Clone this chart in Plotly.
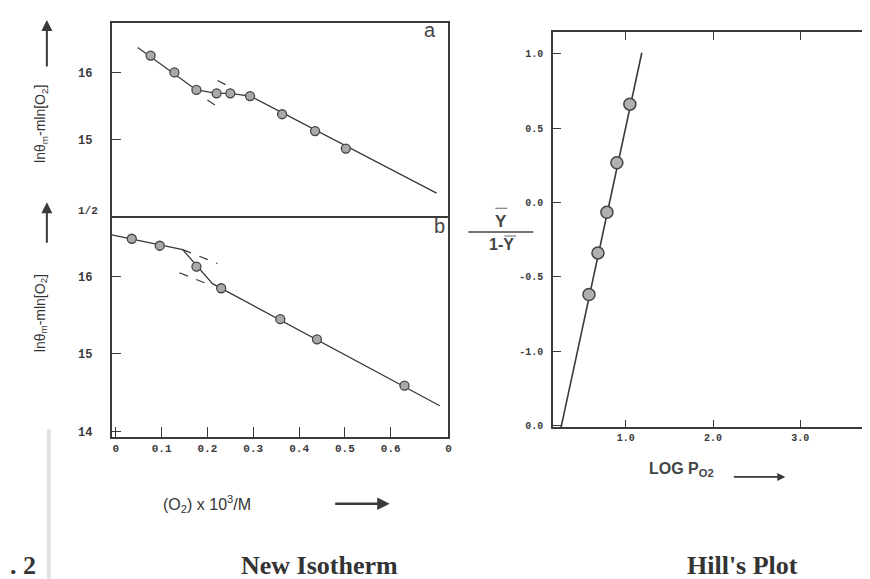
import plotly.graph_objects as go

W, H = 870, 579

# ---------------- data ----------------
# Panel a (New Isotherm, upper)
a_x = [0.076, 0.128, 0.176, 0.220, 0.250, 0.293, 0.363, 0.435, 0.502]
a_y = [16.25, 16.00, 15.74, 15.69, 15.69, 15.65, 15.38, 15.13, 14.87]
a_line1_x = [0.048, 0.176]
a_line1_y = [16.37, 15.74]
a_line2_x = [0.176, 0.220, 0.250, 0.293]
a_line2_y = [15.74, 15.69, 15.69, 15.65]
a_line3_x = [0.293, 0.700]
a_line3_y = [15.65, 14.21]
a_dash1_x = [0.222, 0.248]
a_dash1_y = [15.88, 15.79]
a_dash2_x = [0.200, 0.222]
a_dash2_y = [15.59, 15.49]

# Panel b (New Isotherm, lower)
b_x = [0.035, 0.096, 0.176, 0.230, 0.359, 0.439, 0.630]
b_y = [16.49, 16.40, 16.13, 15.85, 15.45, 15.19, 14.59]
b_line_x = [-0.009, 0.146, 0.211, 0.707]
b_line_y = [16.54, 16.35, 15.91, 14.33]
b_dash1_x = [0.146, 0.222]
b_dash1_y = [16.35, 16.17]
b_dash2_x = [0.139, 0.211]
b_dash2_y = [16.05, 15.88]

# Hill's plot
h_x = [1.046, 0.897, 0.783, 0.680, 0.577]
h_y = [0.662, 0.268, -0.065, -0.339, -0.619]
h_line_x = [0.257, 1.183]
h_line_y = [-1.513, 1.008]

left_x_ticks = [0, 0.1, 0.2, 0.3, 0.4, 0.5, 0.6, 0.726]
left_x_ticktext = ["0", "0.1", "0.2", "0.3", "0.4", "0.5", "0.6", "0"]
a_y_ticks = [15, 16]
b_y_ticks = [14, 15, 16]
hill_x_ticks = [1, 2, 3]
hill_x_ticktext = ["1.0", "2.0", "3.0"]
hill_y_ticks = [-1.5, -1.0, -0.5, 0.0, 0.5, 1.0]
hill_y_ticktext = ["0.0", "-1.0", "-0.5", "0.0", "0.5", "1.0"]

# ---------------- styles ----------------
INK = "#3a3a3a"
LINE = dict(color=INK, width=1.3)
DASH = dict(color=INK, width=1.2, dash="dash")
MARK = dict(size=9, color="#a9a9a9", line=dict(color="#444", width=1.3))
HMARK = dict(size=12, color="#b0b0b0", line=dict(color="#444", width=1.5))


def px(x):
    return x / W


def py(y):
    return 1 - y / H


fig = go.Figure()


def add_line(xs, ys, xa, ya, style):
    fig.add_trace(go.Scatter(x=xs, y=ys, mode="lines", line=style,
                             xaxis=xa, yaxis=ya, showlegend=False, hoverinfo="skip"))


def add_pts(xs, ys, xa, ya, marker):
    fig.add_trace(go.Scatter(x=xs, y=ys, mode="markers", marker=marker,
                             xaxis=xa, yaxis=ya, showlegend=False))


# panel a
add_line(a_line1_x, a_line1_y, "x", "y", LINE)
add_line(a_line2_x, a_line2_y, "x", "y", LINE)
add_line(a_line3_x, a_line3_y, "x", "y", LINE)
add_line(a_dash1_x, a_dash1_y, "x", "y", DASH)
add_line(a_dash2_x, a_dash2_y, "x", "y", DASH)
add_pts(a_x, a_y, "x", "y", MARK)

# panel b
add_line(b_line_x, b_line_y, "x2", "y2", LINE)
add_line(b_dash1_x, b_dash1_y, "x2", "y2", DASH)
add_line(b_dash2_x, b_dash2_y, "x2", "y2", DASH)
add_pts(b_x, b_y, "x2", "y2", MARK)

# hill
add_line(h_line_x, h_line_y, "x3", "y3", dict(color=INK, width=1.6))
add_pts(h_x, h_y, "x3", "y3", HMARK)

LX = [px(104), px(442)]
tickfont_y = dict(family="Liberation Mono", size=12, color="#3a3a3a", weight="bold")
tickfont_x = dict(family="Liberation Mono", size=11, color="#3a3a3a", weight="bold")
hfont = dict(family="Liberation Mono", size=10, color="#3a3a3a", weight="bold")
axis_common = dict(showline=True, linecolor=INK, linewidth=1.6,
                   showgrid=False, zeroline=False)

fig.update_layout(
    width=W, height=H,
    margin=dict(l=0, r=0, t=0, b=0),
    paper_bgcolor="white", plot_bgcolor="white",
    showlegend=False,
    xaxis=dict(domain=LX, range=[-0.009, 0.726], anchor="y", mirror=True,
               showticklabels=False, ticks="", **axis_common),
    yaxis=dict(domain=[py(210), py(15)], range=[13.868, 16.735], anchor="x",
               mirror=True,
               tickvals=a_y_ticks, ticks="inside", ticklen=10, tickcolor=INK,
               ticklabelstandoff=15, tickfont=tickfont_y, **axis_common),
    xaxis2=dict(domain=LX, range=[-0.009, 0.726], anchor="y2", mirror=False,
                tickvals=left_x_ticks, ticktext=left_x_ticktext,
                ticks="inside", ticklen=10, tickcolor=INK,
                tickfont=tickfont_x, **axis_common),
    yaxis2=dict(domain=[py(433), py(210)], range=[13.923, 16.782], anchor="x2",
                mirror=True,
                tickvals=b_y_ticks, ticks="inside", ticklen=10, tickcolor=INK,
                ticklabelstandoff=15, tickfont=tickfont_y, **axis_common),
    xaxis3=dict(domain=[px(547), px(865)], range=[0.166, 3.8], anchor="y3",
                mirror="ticks",
                tickvals=hill_x_ticks, ticktext=hill_x_ticktext,
                ticks="inside", ticklen=8, tickcolor=INK,
                tickfont=hfont, **axis_common),
    yaxis3=dict(domain=[py(423), py(24)], range=[-1.513, 1.149], anchor="x3",
                mirror="ticks",
                tickvals=hill_y_ticks, ticktext=hill_y_ticktext,
                ticks="inside", ticklen=8, tickcolor=INK,
                ticklabelstandoff=6, tickfont=hfont, **axis_common),
)

ann = []


def text(x, y, t, size, family="Liberation Sans", bold=False, color="#333",
         angle=0, xanchor="center"):
    if bold:
        t = "<b>" + t + "</b>"
    ann.append(dict(x=px(x), y=py(y), xref="paper", yref="paper", text=t,
                    showarrow=False, textangle=angle, xanchor=xanchor,
                    yanchor="middle",
                    font=dict(family=family, size=size, color=color)))


def arrow(x0, y0, x1, y1, size=1.2, width=1.6):
    ann.append(dict(x=px(x1), y=py(y1), ax=x0 - x1, ay=y0 - y1,
                    xref="paper", yref="paper", axref="pixel", ayref="pixel",
                    text="", showarrow=True, arrowhead=2, arrowsize=size,
                    arrowwidth=width, arrowcolor=INK))


# panel letters
text(423, 22, "a", 20, color="#444")
text(433, 220, "b", 20, color="#444")
text(80, 205, "1/2", 11, family="Liberation Mono", bold=True, color="#3a3a3a")

# left y titles
text(33, 117, "lnθ<sub>m</sub>-mln[O<sub>2</sub>]", 14, angle=-90)
text(33, 308, "lnθ<sub>m</sub>-mln[O<sub>2</sub>]", 14, angle=-90)
arrow(39, 60, 39, 12, size=1.1, width=2)
arrow(39, 238, 39, 196, size=1.1, width=2)

# left x title
text(200, 500, "(O<sub>2</sub>) x 10<sup>3</sup>/M", 16)
arrow(327, 500, 383, 500, size=1.0, width=2.5)

# hill labels
text(495, 215, "Y", 17, bold=True, color="#444")
text(495, 239, "1-Y", 16, bold=True, color="#444")
text(676, 466, "LOG P<sub>O2</sub>", 16, bold=True, color="#444")
arrow(727, 473, 780, 473, size=1.0, width=1.6)

# captions
text(313, 562, "New Isotherm", 26, family="Liberation Serif", bold=True)
text(737, 562, "Hill's Plot", 26, family="Liberation Serif", bold=True)
text(0, 562, ". 2", 26, family="Liberation Serif", bold=True, xanchor="left")

fig.update_layout(annotations=ann)

# decorative strokes (fraction bar, overbars, scan streak)
shapes = [
    dict(type="line", xref="paper", yref="paper", x0=px(462), x1=px(527),
         y0=py(226), y1=py(226), line=dict(color="#444", width=1.5)),
    dict(type="line", xref="paper", yref="paper", x0=px(489), x1=px(501),
         y0=py(202), y1=py(202), line=dict(color="#666", width=1)),
    dict(type="line", xref="paper", yref="paper", x0=px(498), x1=px(510),
         y0=py(230), y1=py(230), line=dict(color="#666", width=1)),
    dict(type="line", xref="paper", yref="paper", x0=px(41), x1=px(41),
         y0=py(425), y1=py(579), line=dict(color="#e2e2e2", width=4)),
]
fig.update_layout(shapes=shapes)

fig.write_html("out.html")
